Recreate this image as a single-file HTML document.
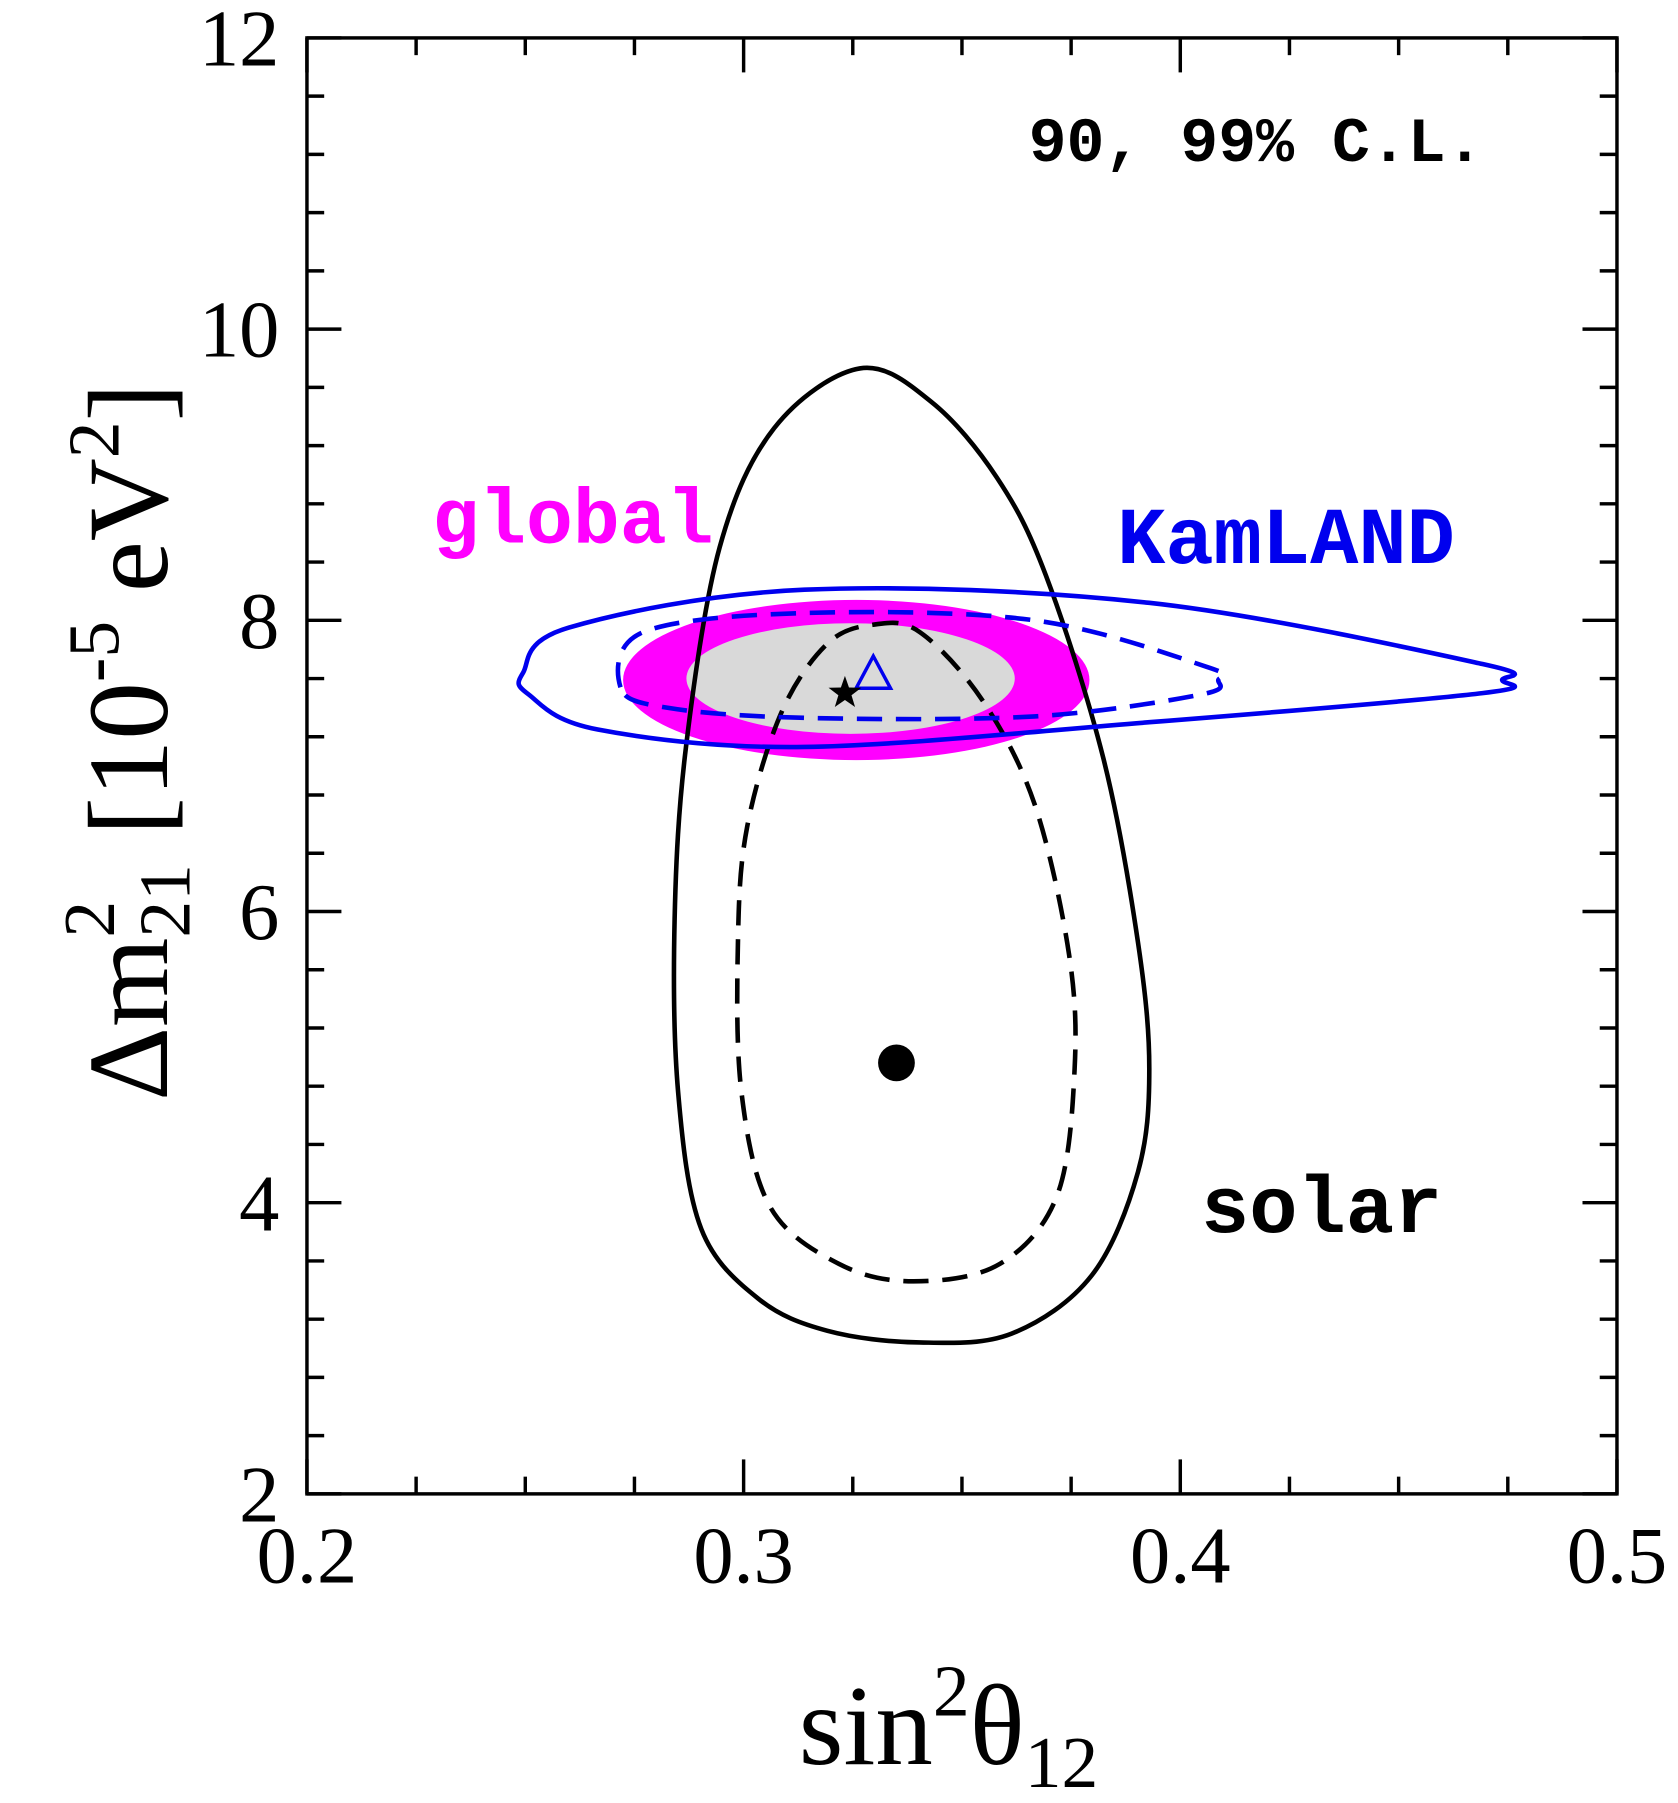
<!DOCTYPE html>
<html><head><meta charset="utf-8"><style>
html,body{margin:0;padding:0;background:#fff;}
svg{display:block;}
</style></head><body>
<svg id="chart" width="1678" height="1803" viewBox="0 0 1460 1569" xmlns="http://www.w3.org/2000/svg">
<rect x="0" y="0" width="1460" height="1569" fill="#fff"/>
<g id="marks"></g>
<rect x="267" y="33" width="1140" height="1267" fill="none" stroke="#000" stroke-width="3"/>
<g id="ticks"></g>
<text x="895" y="140" font-family="Liberation Mono, monospace" font-weight="bold" font-size="55" fill="#000">90, 99% C.L.</text>
<text x="376" y="472" font-family="Liberation Mono, monospace" font-weight="bold" font-size="68" fill="#ff00ff">global</text>
<text x="972" y="490" font-family="Liberation Mono, monospace" font-weight="bold" font-size="70" fill="#0000ee">KamLAND</text>
<text x="1045" y="1072" font-family="Liberation Mono, monospace" font-weight="bold" font-size="70" fill="#000">solar</text>
<text x="695" y="1535" font-family="Liberation Serif, serif" font-size="100" fill="#000">sin<tspan font-size="64" dy="-42">2</tspan><tspan dy="42">θ</tspan><tspan font-size="64" dy="20">12</tspan></text>
<text transform="translate(145,958) rotate(-90)" font-family="Liberation Serif, serif" font-size="100" fill="#000">Δm<tspan font-size="64" dy="-46">2</tspan><tspan font-size="64" dx="-32" dy="66">21</tspan><tspan dy="-20"> [10</tspan><tspan font-size="64" dy="-42">-5</tspan><tspan dy="42"> eV</tspan><tspan font-size="64" dy="-42">2</tspan><tspan dy="42">]</tspan></text>
</svg>
<script>
const xTicks=[0.2,0.3,0.4,0.5];
const yTicks=[2,4,6,8,10,12];
const solar99=[[0.3266,9.73],[0.3430,9.50],[0.3580,8.98],[0.3692,8.31],[0.3824,7.05],[0.3903,5.79],[0.3929,4.92],[0.3903,4.21],[0.3797,3.50],[0.3613,3.10],[0.3403,3.04],[0.3192,3.12],[0.3034,3.34],[0.2903,3.82],[0.285,4.76],[0.2842,5.95],[0.2868,7.13],[0.2945,8.50],[0.3070,9.32]];
const solar90=[[0.3297,7.97],[0.3403,7.92],[0.3547,7.45],[0.3666,6.74],[0.3745,5.71],[0.3758,4.92],[0.3718,4.05],[0.3587,3.58],[0.3389,3.46],[0.3218,3.58],[0.3061,3.97],[0.2995,4.76],[0.2987,5.79],[0.3008,6.58],[0.3087,7.37],[0.3192,7.84]];
const kam99=[[0.2495,7.64],[0.2600,7.95],[0.3139,8.21],[0.3929,8.12],[0.4692,7.70],[0.4737,7.59],[0.4692,7.50],[0.3929,7.30],[0.3139,7.13],[0.2666,7.25],[0.2508,7.49]];
const kam90=[[0.2718,7.54],[0.2771,7.92],[0.3139,8.05],[0.3666,8.0],[0.4061,7.68],[0.4087,7.59],[0.4047,7.49],[0.3666,7.34],[0.3139,7.33],[0.2824,7.40]];
const global99=[0.3258,7.59,0.0534,0.55];
const global90=[0.3245,7.60,0.0376,0.38];
const bestGlobal=[0.3232,7.50];
const bestKam=[0.3297,7.62];
const bestSolar=[0.335,4.96];

const NS='http://www.w3.org/2000/svg';
const X=v=>267+(v-0.2)*3800;
const Y=v=>1300-(v-2)*126.7;
const marks=document.getElementById('marks');
const ticks=document.getElementById('ticks');
function mk(tag,attrs,parent){const e=document.createElementNS(NS,tag);for(const k in attrs)e.setAttribute(k,attrs[k]);parent.appendChild(e);return e;}
function smooth(pts){const p=pts.map(a=>[X(a[0]),Y(a[1])]);const n=p.length;let d='M'+p[0][0]+','+p[0][1];
for(let i=0;i<n;i++){const p0=p[(i-1+n)%n],p1=p[i],p2=p[(i+1)%n],p3=p[(i+2)%n];
d+='C'+(p1[0]+(p2[0]-p0[0])/6)+','+(p1[1]+(p2[1]-p0[1])/6)+' '+(p2[0]-(p3[0]-p1[0])/6)+','+(p2[1]-(p3[1]-p1[1])/6)+' '+p2[0]+','+p2[1];}
return d+'Z';}
let e;
e=mk('ellipse',{cx:X(global99[0]),cy:Y(global99[1]),rx:global99[2]*3800,ry:global99[3]*126.7,fill:'#ff00ff'},marks);


e=mk('ellipse',{cx:X(global90[0]),cy:Y(global90[1]),rx:global90[2]*3800,ry:global90[3]*126.7,fill:'#d9d9d9'},marks);


e=mk('path',{d:smooth(solar99),fill:'none',stroke:'#000','stroke-width':4},marks);


e=mk('path',{d:smooth(solar90),fill:'none',stroke:'#000','stroke-width':4,'stroke-dasharray':'22,12'},marks);


e=mk('path',{d:smooth(kam99),fill:'none',stroke:'#0000ee','stroke-width':4},marks);


e=mk('path',{d:smooth(kam90),fill:'none',stroke:'#0000ee','stroke-width':4,'stroke-dasharray':'22,12'},marks);


e=mk('circle',{cx:X(bestSolar[0]),cy:Y(bestSolar[1]),r:16,fill:'#000'},marks);


{const cx=X(bestKam[0]),cy=Y(bestKam[1]);
e=mk('polygon',{points:(cx)+','+(cy-17)+' '+(cx-15)+','+(cy+11)+' '+(cx+15)+','+(cy+11),fill:'none',stroke:'#0000ee','stroke-width':3},marks);

}
{const cx=X(bestGlobal[0]),cy=Y(bestGlobal[1]);let pts=[];
for(let i=0;i<10;i++){const r=i%2?6:15,a=-Math.PI/2+i*Math.PI/5;pts.push((cx+r*Math.cos(a))+','+(cy+r*Math.sin(a)));}
e=mk('polygon',{points:pts.join(' '),fill:'#000'},marks);

}
for(let v=0.2;v<=0.5001;v+=0.025){const major=Math.abs(v*10-Math.round(v*10))<1e-6;const L=major?30:15,x=X(v);
mk('line',{x1:x,y1:1300,x2:x,y2:1300-L,stroke:'#000','stroke-width':3},ticks);
mk('line',{x1:x,y1:33,x2:x,y2:33+L,stroke:'#000','stroke-width':3},ticks);}
for(let v=2;v<=12.001;v+=0.4){const major=Math.abs(v/2-Math.round(v/2))<1e-6;const L=major?30:15,y=Y(v);
mk('line',{x1:267,y1:y,x2:267+L,y2:y,stroke:'#000','stroke-width':3},ticks);
mk('line',{x1:1407,y1:y,x2:1407-L,y2:y,stroke:'#000','stroke-width':3},ticks);}
xTicks.forEach(v=>{e=mk('text',{x:X(v),y:1377,'text-anchor':'middle','font-family':'Liberation Serif, serif','font-size':70,fill:'#000'},ticks);e.textContent=v.toFixed(1);

});
yTicks.forEach(v=>{e=mk('text',{x:243,y:Y(v)+24,'text-anchor':'end','font-family':'Liberation Serif, serif','font-size':70,fill:'#000'},ticks);e.textContent=String(v);

});
</script>
</body></html>
